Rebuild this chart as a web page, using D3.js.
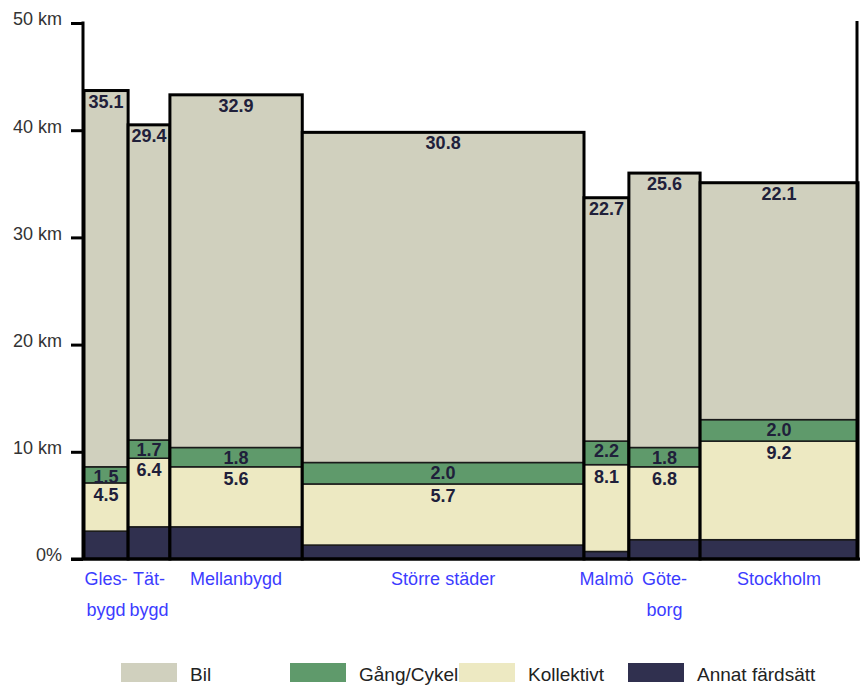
<!DOCTYPE html>
<html><head><meta charset="utf-8">
<script src="https://cdn.jsdelivr.net/npm/d3@7"></script>
<style>body{margin:0;background:#fff}svg{display:block}text{font-family:Arial,"Liberation Sans",sans-serif}</style>
</head><body><svg id="c" width="860" height="686"></svg>
<script>
// categories (two-line labels) and their population share (bar widths, %)
const categories = [["Gles-","bygd"],["Tät-","bygd"],["Mellanbygd"],["Större städer"],["Malmö"],["Göte-","borg"],["Stockholm"]];
const widthShare = [5.7, 5.4, 17.1, 36.4, 5.8, 9.2, 20.4];
// km per person and day, by mode
const annat      = [2.6, 3.0, 3.0, 1.3, 0.7, 1.8, 1.8];
const kollektivt = [4.5, 6.4, 5.6, 5.7, 8.1, 6.8, 9.2];
const gangCykel  = [1.5, 1.7, 1.8, 2.0, 2.2, 1.8, 2.0];
const bil        = [35.1, 29.4, 32.9, 30.8, 22.7, 25.6, 22.1];
const seriesNames = ["Bil","Gång/Cykel","Kollektivt","Annat färdsätt"];
const seriesColors = ["#d0d0be","#5f9a6b","#ede9c2","#30304f"];
const yTicks = [0,10,20,30,40,50];
const yTickLabels = ["0%","10 km","20 km","30 km","40 km","50 km"];

const svg = d3.select("#c");
const x = d3.scaleLinear().domain([0,100]).range([84,858]);
const y = d3.scaleLinear().domain([0,50]).range([559,23]);

// stacking order bottom->top: Annat, Kollektivt, Gång/Cykel, Bil
const stackSeries = [
  {name:"Annat färdsätt", vals:annat, color:seriesColors[3], label:false, off:0},
  {name:"Kollektivt", vals:kollektivt, color:seriesColors[2], label:true, off:18},
  {name:"Gång/Cykel", vals:gangCykel, color:seriesColors[1], label:true, off:16},
  {name:"Bil", vals:bil, color:seriesColors[0], label:true, off:17}
];
let cum = 0;
const bars = categories.map((c,i)=>{
  const x0 = cum; cum += widthShare[i];
  let base = 0;
  const segs = stackSeries.map(s=>{ const seg={y0:base,y1:base+s.vals[i],color:s.color,v:s.vals[i],label:s.label,off:s.off}; base+=s.vals[i]; return seg;});
  return {c, x0, x1:cum, segs, total:base};
});

const g = svg.append("g");
bars.forEach(b=>{
  const bx0 = x(b.x0), bx1 = x(b.x1);
  b.segs.forEach(s=>{
    g.append("rect").attr("x",bx0).attr("width",bx1-bx0)
      .attr("y",y(s.y1)).attr("height",y(s.y0)-y(s.y1))
      .attr("fill",s.color).attr("stroke","#1a1a1a").attr("stroke-width",1.5);
  });
  g.append("rect").attr("x",bx0).attr("width",bx1-bx0)
    .attr("y",y(b.total)).attr("height",y(0)-y(b.total))
    .attr("fill","none").attr("stroke","#000").attr("stroke-width",3);
  b.segs.forEach(s=>{
    if(!s.label) return;
    g.append("text").attr("x",(bx0+bx1)/2).attr("y",y(s.y1)+s.off)
      .attr("text-anchor","middle").attr("font-size",18).attr("font-weight","bold")
      .attr("fill","#20203a").text(s.v.toFixed(1));
  });
  b.c.forEach((t,j)=>{
    svg.append("text").attr("x",(bx0+bx1)/2).attr("y",585+j*31)
      .attr("text-anchor","middle").attr("font-size",18).attr("fill","#3c3cff").text(t);
  });
});

// axes
const axis = svg.append("g").attr("transform","translate(83,0)")
  .call(d3.axisLeft(y).tickValues(yTicks).tickSize(12).tickFormat((d,i)=>yTickLabels[i]));
axis.select(".domain").remove();
axis.selectAll(".tick line").attr("stroke","#000").attr("stroke-width",3);
axis.selectAll(".tick text").attr("x",-21).attr("dy","0.1em").attr("font-size",18)
  .attr("font-family","Arial, 'Liberation Sans', sans-serif").attr("fill","#333");
svg.append("line").attr("x1",83).attr("x2",83).attr("y1",y(50)-1.5).attr("y2",y(0)).attr("stroke","#000").attr("stroke-width",3);
svg.append("line").attr("x1",x(100)-1).attr("x2",x(100)-1).attr("y1",y(50)-2).attr("y2",y(0)).attr("stroke","#000").attr("stroke-width",3);
svg.append("line").attr("x1",71).attr("x2",860).attr("y1",y(0)).attr("y2",y(0)).attr("stroke","#000").attr("stroke-width",3);

// legend
const leg = svg.append("g");
seriesNames.forEach((n,i)=>{
  const lx = 121 + i*169;
  leg.append("rect").attr("x",lx).attr("y",663).attr("width",56).attr("height",19).attr("fill",seriesColors[i]);
  leg.append("text").attr("x",lx+69).attr("y",681).attr("font-size",19).attr("fill","#222").text(n);
});
</script></body></html>
